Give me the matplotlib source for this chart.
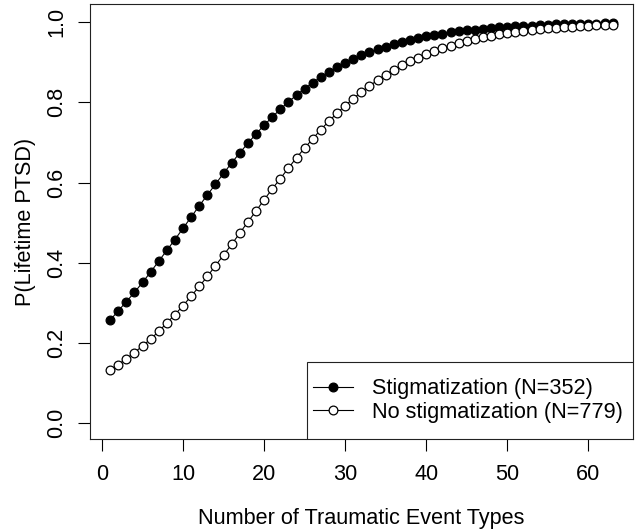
import matplotlib
matplotlib.use("Agg")
import matplotlib.pyplot as plt
from matplotlib.patches import Rectangle

plt.rcParams['font.family'] = ['Liberation Sans', 'DejaVu Sans']

n_events = list(range(1, 64))

stigmatization = [
    0.257, 0.280, 0.303, 0.326, 0.351, 0.377, 0.404, 0.431, 0.458, 0.486,
    0.514, 0.542, 0.569, 0.596, 0.623, 0.649, 0.674, 0.698, 0.721, 0.743,
    0.763, 0.783, 0.801, 0.818, 0.834, 0.849, 0.863, 0.876, 0.887, 0.898,
    0.908, 0.917, 0.925, 0.932, 0.939, 0.945, 0.951, 0.956, 0.960, 0.964,
    0.968, 0.971, 0.974, 0.977, 0.979, 0.981, 0.983, 0.985, 0.987, 0.988,
    0.989, 0.990, 0.991, 0.992, 0.993, 0.994, 0.994, 0.995, 0.996, 0.996,
    0.996, 0.997, 0.997,
]

no_stigmatization = [
    0.133, 0.146, 0.161, 0.176, 0.193, 0.210, 0.229, 0.250, 0.271, 0.293,
    0.317, 0.341, 0.366, 0.393, 0.419, 0.446, 0.474, 0.502, 0.529, 0.557,
    0.584, 0.610, 0.636, 0.662, 0.686, 0.709, 0.732, 0.753, 0.773, 0.792,
    0.809, 0.826, 0.841, 0.855, 0.869, 0.881, 0.892, 0.902, 0.911, 0.920,
    0.928, 0.935, 0.941, 0.947, 0.952, 0.957, 0.962, 0.965, 0.969, 0.972,
    0.975, 0.977, 0.980, 0.982, 0.984, 0.985, 0.987, 0.988, 0.990, 0.991,
    0.992, 0.992, 0.993,
]

labels = ["Stigmatization (N=352)", "No stigmatization (N=779)"]
x_ticks = [0, 10, 20, 30, 40, 50, 60]
y_ticks = [0.0, 0.2, 0.4, 0.6, 0.8, 1.0]
y_tick_labels = ["0.0", "0.2", "0.4", "0.6", "0.8", "1.0"]

FS = 15.6
W, H = 638, 531
fig = plt.figure(figsize=(W / 100, H / 100), dpi=100)
ax = fig.add_axes([90 / W, (H - 439.3) / H, (633 - 90) / W, (439.3 - 4) / H])

ms = 6.3
l1, = ax.plot(n_events, stigmatization, '-o', color='black', lw=0.8,
              markersize=ms, markerfacecolor='black', markeredgecolor='black',
              markeredgewidth=0.9, zorder=3)
l2, = ax.plot(n_events, no_stigmatization, '-o', color='black', lw=0.8,
              markersize=ms, markerfacecolor='white', markeredgecolor='black',
              markeredgewidth=0.9, zorder=4)

ax.set_xlim(-1.48, 65.51)
ax.set_ylim(-0.04, 1.045)
ax.set_xticks(x_ticks)
ax.set_yticks(y_ticks)
ax.set_yticklabels(y_tick_labels, rotation=90, va='center')
ax.tick_params(axis='both', direction='out', length=8.6, width=0.8,
               labelsize=FS, color='black')
ax.tick_params(axis='x', pad=9)
ax.tick_params(axis='y', pad=8)
for s in ax.spines.values():
    s.set_linewidth(0.8)
    s.set_color('#222222')

ax.set_xlabel("Number of Traumatic Event Types", fontsize=FS, labelpad=17)
ax.set_ylabel("P(Lifetime PTSD)", fontsize=FS, labelpad=7)

# legend box
rect = Rectangle((0.3995, 0.0), 1 - 0.3995, 0.1787, transform=ax.transAxes,
                 facecolor='white', edgecolor='#222222', lw=0.8, zorder=5)
ax.add_patch(rect)
leg = ax.legend([l1, l2], labels, loc='center left',
                bbox_to_anchor=(0.4105, 0.0894), frameon=False,
                fontsize=FS, borderpad=0, borderaxespad=0,
                handlelength=1.84, handletextpad=0.88, labelspacing=0.12)
leg.set_zorder(6)

fig.savefig("out.png", dpi=100)
